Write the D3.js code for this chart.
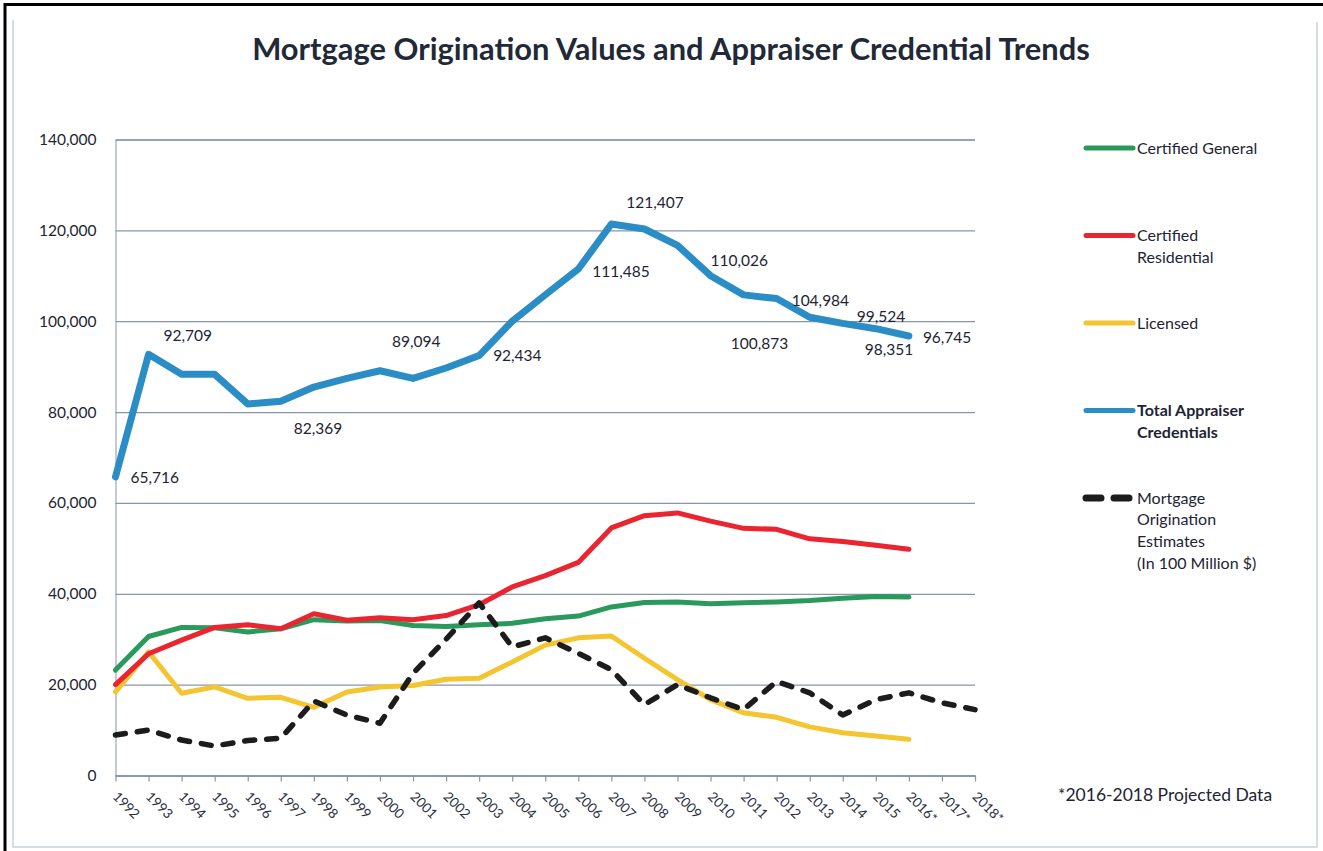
<!DOCTYPE html>
<html>
<head>
<meta charset="utf-8">
<script src="https://cdn.jsdelivr.net/npm/d3@7"></script>
<style>
  body{margin:0;background:#fff;}
  svg{display:block;}
</style>
</head>
<body>
<div id="chart"></div>
<script>
let w=1323;
let h=851;

// data
let yearLabels=["1992","1993","1994","1995","1996","1997","1998","1999","2000","2001","2002","2003","2004",
  "2005","2006","2007","2008","2009","2010","2011","2012","2013","2014","2015","2016*","2017*","2018*"];

let certGeneral=[23200,30600,32600,32500,31600,32300,34300,34000,34100,33000,32800,33200,33500,
  34500,35100,37100,38100,38200,37800,38000,38200,38500,39000,39400,39300];
let certResidential=[20000,26800,29800,32600,33200,32300,35600,34200,34700,34300,35200,37600,41500,
  44000,46900,54500,57200,57800,56000,54400,54200,52100,51500,50700,49800];
let licensed=[18400,27200,18100,19500,17000,17200,15000,18400,19500,19800,21200,21400,25000,
  28700,30300,30700,25800,21100,16700,13800,12800,10700,9400,8700,8000];
let totalCredentials=[65716,92709,88300,88300,81800,82369,85500,87400,89094,87400,89700,92434,100000,
  105800,111485,121407,120300,116700,110026,105800,104984,100873,99524,98351,96745];
let mortgage=[8900,10000,7800,6500,7700,8200,16400,13300,11500,22500,30000,38000,28300,
  30300,26900,23300,15600,20000,17100,14500,20700,18200,13300,16700,18200,16000,14500];

// which points of the total line carry a value label
let labeledYears=["1992","1993","1997","2000","2003","2006","2007","2010","2012","2013","2014","2015","2016*"];

let yTicks=[0,20000,40000,60000,80000,100000,120000,140000];

let legendNames=[["Certified General"],["Certified","Residential"],["Licensed"],
  ["Total Appraiser","Credentials"],["Mortgage","Origination","Estimates","(In 100 Million $)"]];

// label placement (manual, like the original)
let labelOffsets={
  "1992":[15,0],"1993":[15,-19],"1997":[13,27],"2000":[12,-29],"2003":[14,0],"2006":[14,2],
  "2007":[15,-22],"2010":[0,-15],"2012":[15,2],"2013":[-79,26],"2014":[14,-7],"2015":[-11,21],"2016*":[14,1]
};

let font="Lato, 'Open Sans', sans-serif";
let textColor="#1d2433";

let svg=d3.select("#chart").append("svg")
  .attr("width",w)
  .attr("height",h)
  .style("font-family",font);

svg.append("rect").attr("width",w).attr("height",h).attr("fill","#fff");

// frame
svg.append("path")
  .attr("d","M13,20 L13,847 L1317,847 L1317,22")
  .attr("fill","none")
  .attr("stroke","#c9d1dc")
  .attr("stroke-width",1.5);
svg.append("path")
  .attr("d","M5,851 L5,4.5 L1323,4.5")
  .attr("fill","none")
  .attr("stroke","#000")
  .attr("stroke-width",3);

let plotLeft=115.5, plotRight=975, plotTop=139.5, plotBottom=775.5;

let xScale=d3.scalePoint().domain(yearLabels).range([plotLeft,plotRight]);
let yScale=d3.scaleLinear().domain([0,140000]).range([plotBottom,plotTop]);

// title
let title=svg.append("text")
  .text("Mortgage Origination Values and Appraiser Credential Trends")
  .attr("x",671)
  .attr("y",60)
  .attr("text-anchor","middle")
  .attr("fill","#1f2937")
  .style("font-weight","bold")
  .style("font-size","24px");
let tw=title.node().getComputedTextLength();
title.style("font-size",(24*838/tw)+"px");

// y axis + gridlines
let yAxis=d3.axisLeft(yScale)
  .tickValues(yTicks)
  .tickFormat(d3.format(","))
  .tickSize(-(plotRight-plotLeft))
  .tickPadding(19);
let yAxisGroup=svg.append("g")
  .attr("transform","translate("+plotLeft+",0)")
  .call(yAxis);
yAxisGroup.select(".domain").attr("stroke","#9aa8ba").attr("stroke-width",1.2);
yAxisGroup.selectAll(".tick line").attr("stroke","#8796ab").attr("stroke-width",1.3);
yAxisGroup.selectAll(".tick text")
  .attr("fill",textColor)
  .style("font-size","15.5px")
  .style("font-family",font);

// x axis
let xAxis=d3.axisBottom(xScale).tickSize(6).tickSizeOuter(0);
let xAxisGroup=svg.append("g")
  .attr("transform","translate(0,"+plotBottom+")")
  .call(xAxis);
xAxisGroup.select(".domain").attr("stroke","#8796ab").attr("stroke-width",1.3);
xAxisGroup.selectAll(".tick line").attr("stroke","#8796ab").attr("stroke-width",1.2);
xAxisGroup.selectAll(".tick text")
  .attr("x",0)
  .attr("y",0)
  .attr("dy",null)
  .attr("text-anchor","start")
  .attr("transform","translate(-4,22) rotate(45)")
  .attr("fill","#2a3142")
  .style("font-size","13.5px")
  .style("font-family",font);

function lineFor(values){
  return d3.line()
    .x(function(d,i){ return xScale(yearLabels[i]); })
    .y(function(d){ return yScale(d); })(values);
}

let series=[
  {values:licensed,color:"#f2c531",width:5,dash:null},
  {values:certGeneral,color:"#2a9a5c",width:5,dash:null},
  {values:certResidential,color:"#ea2530",width:5,dash:null},
  {values:mortgage,color:"#1c1c1c",width:5.5,dash:"10,12"},
  {values:totalCredentials,color:"#2b8dc6",width:7,dash:null}
];

svg.selectAll(".series").data(series).enter()
  .append("path")
  .attr("class","series")
  .attr("d",function(d){ return lineFor(d.values); })
  .attr("fill","none")
  .attr("stroke",function(d){ return d.color; })
  .attr("stroke-width",function(d){ return d.width; })
  .attr("stroke-dasharray",function(d){ return d.dash; })
  .attr("stroke-linecap","round")
  .attr("stroke-linejoin","round");

// value labels on total line
svg.selectAll(".valueLabel").data(labeledYears).enter()
  .append("text")
  .attr("class","valueLabel")
  .text(function(d){ return d3.format(",")(totalCredentials[yearLabels.indexOf(d)]); })
  .attr("x",function(d){ return xScale(d)+labelOffsets[d][0]; })
  .attr("y",function(d){ return yScale(totalCredentials[yearLabels.indexOf(d)])+labelOffsets[d][1]; })
  .attr("dy","0.36em")
  .attr("fill",textColor)
  .style("font-size","15.5px");

// legend
let legendColors=["#2a9a5c","#ea2530","#f2c531","#2b8dc6","#1c1c1c"];
let legend=svg.selectAll(".legendItem").data(legendNames).enter()
  .append("g")
  .attr("class","legendItem")
  .attr("transform",function(d,i){ return "translate(1084,"+(148+i*87.5)+")"; });

legend.append("line")
  .attr("x1",2).attr("x2",function(d,i){ return i==4 ? 46 : 49; })
  .attr("y1",0).attr("y2",0)
  .attr("stroke",function(d,i){ return legendColors[i]; })
  .attr("stroke-width",function(d,i){ return i==4 ? 7 : 5; })
  .attr("stroke-linecap","round")
  .attr("stroke-dasharray",function(d,i){ return i==4 ? "15,13" : null; });

legend.each(function(d,i){
  let t=d3.select(this).append("text")
    .attr("x",53)
    .attr("fill",textColor)
    .style("font-size","16px")
    .style("font-weight",i==3 ? "bold" : "normal");
  d.forEach(function(line,j){
    t.append("tspan").attr("x",53).attr("y",j*21.7).attr("dy","0.35em").text(line);
  });
});

// footnote
svg.append("text")
  .text("*2016-2018 Projected Data")
  .attr("x",1058)
  .attr("y",795)
  .attr("dy","0.35em")
  .attr("fill",textColor)
  .style("font-size","17.5px");
</script>
</body>
</html>
